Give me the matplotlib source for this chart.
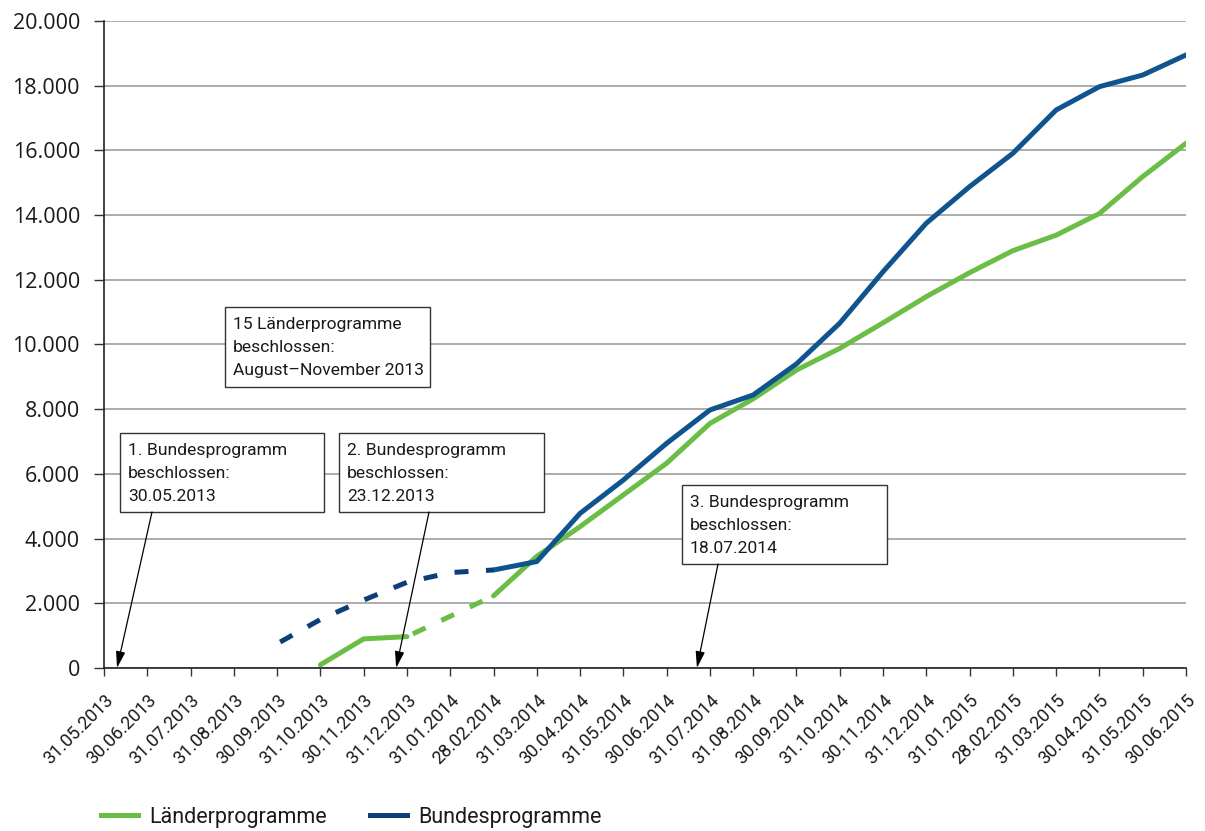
import matplotlib
matplotlib.use("Agg")
import matplotlib.pyplot as plt
from matplotlib import font_manager
from matplotlib.ticker import FuncFormatter, FixedLocator
from matplotlib.patches import Rectangle
from matplotlib.lines import Line2D
import numpy as np

nan = np.nan

# Stichtage (Monatsenden)
dates = ["31.05.2013", "30.06.2013", "31.07.2013", "31.08.2013", "30.09.2013",
         "31.10.2013", "30.11.2013", "31.12.2013", "31.01.2014", "28.02.2014",
         "31.03.2014", "30.04.2014", "31.05.2014", "30.06.2014", "31.07.2014",
         "31.08.2014", "30.09.2014", "31.10.2014", "30.11.2014", "31.12.2014",
         "31.01.2015", "28.02.2015", "31.03.2015", "30.04.2015", "31.05.2015",
         "30.06.2015"]

# Länderprogramme: gemeldete Werte (durchgezogen) und Lücke (gestrichelt)
laender = [nan, nan, nan, nan, nan, 100, 900, 970, nan, 2230,
           3450, 4370, 5350, 6330, 7560, 8320, 9210, 9880, 10670, 11480,
           12220, 12900, 13380, 14050, 15190, 16220]
laender_luecke = [nan, nan, nan, nan, nan, nan, nan, 970, 1600, 2230,
                  nan, nan, nan, nan, nan, nan, nan, nan, nan, nan,
                  nan, nan, nan, nan, nan, nan]

# Bundesprogramme
bund = [nan, nan, nan, nan, nan, nan, nan, nan, nan, 3030,
        3290, 4780, 5810, 6945, 7975, 8440, 9400, 10660, 12250, 13750,
        14880, 15910, 17250, 17970, 18330, 18950]
bund_luecke = [nan, nan, nan, nan, 750, 1500, 2100, 2650, 2950, 3030,
               nan, nan, nan, nan, nan, nan, nan, nan, nan, nan,
               nan, nan, nan, nan, nan, nan]

y_ticks = [0, 2000, 4000, 6000, 8000, 10000, 12000, 14000, 16000, 18000, 20000]

# Beschlüsse (Position auf der Zeitachse als Bruchteil des Monatsindex)
notes = [
    ("1. Bundesprogramm\nbeschlossen:\n30.05.2013", 0.30),
    ("2. Bundesprogramm\nbeschlossen:\n23.12.2013", 6.75),
    ("3. Bundesprogramm\nbeschlossen:\n18.07.2014", 13.70),
]
note_laender = "15 Länderprogramme\nbeschlossen:\nAugust–November 2013"

GREEN = "#6abd45"
BLUE = "#10548f"
BLUE_DARK = "#0b3f7a"
GRID = "#a6a6a6"
TEXT = "#1a1a1a"


def pick(cands):
    names = {f.name for f in font_manager.fontManager.ttflist}
    chosen = [c for c in cands if c in names]
    return chosen + ["DejaVu Sans"]


LABEL_FONT = pick(["Liberation Sans Narrow", "Roboto"])
NUM_FONT = pick(["Open Sans", "Noto Sans"])

plt.rcParams["font.family"] = NUM_FONT
plt.rcParams["lines.scale_dashes"] = False

fig = plt.figure(figsize=(12.05, 8.31), dpi=100)
ax = fig.add_axes([104 / 1205, 1 - 668 / 831, (1186 - 104) / 1205, (668 - 21) / 831])

x = np.arange(len(dates))
px = 0.72  # points per pixel
lw = 5 * px

ax.plot(x, laender, color=GREEN, lw=lw, solid_capstyle="round",
        solid_joinstyle="round", zorder=3)
ax.plot(x, bund, color=BLUE, lw=lw, solid_capstyle="round",
        solid_joinstyle="round", zorder=4)
ax.plot(x, laender_luecke, color=GREEN, lw=lw, dash_capstyle="butt",
        linestyle=(25 * px, (14 * px, 17.5 * px)), zorder=3)
ax.plot(x, bund_luecke, color=BLUE_DARK, lw=lw, dash_capstyle="butt",
        linestyle=(28 * px, (14 * px, 17.5 * px)), zorder=4)

ax.set_xlim(0, len(dates) - 1)
ax.set_ylim(0, 20000)

ax.yaxis.set_major_locator(FixedLocator(y_ticks))
ax.yaxis.set_major_formatter(FuncFormatter(lambda v, p: f"{int(v):,}".replace(",", ".")))
ax.set_xticks(x)
ax.set_xticklabels(dates, rotation=45, ha="right", va="top",
                   rotation_mode="anchor", fontsize=13, family=LABEL_FONT,
                   color=TEXT)
ax.tick_params(axis="x", direction="out", length=8 * px, width=1, color="#333333",
               pad=15 * px)
ax.tick_params(axis="y", direction="out", length=10 * px, width=1, color="#333333",
               pad=14 * px, labelsize=15.5, labelcolor=TEXT)

ax.grid(axis="y", color=GRID, lw=1.3)
ax.set_axisbelow(True)
for s in ("top", "right"):
    ax.spines[s].set_visible(False)
for s in ("left", "bottom"):
    ax.spines[s].set_color("#222222")
    ax.spines[s].set_linewidth(1.2)

PX_X = 43.28          # Pixel je Monat
PX_Y = 647 / 20000    # Pixel je Einheit


def box(x0, x1, ytop, ybot, text):
    y0 = (668 - ybot) / PX_Y
    y1 = (668 - ytop) / PX_Y
    xd0 = (x0 - 104) / PX_X
    xd1 = (x1 - 104) / PX_X
    ax.add_patch(Rectangle((xd0, y0), xd1 - xd0, y1 - y0, facecolor="white",
                           edgecolor="#333333", lw=1.0, zorder=6))
    ax.text(xd0 + 8 / PX_X, y1 - 10 / PX_Y, text, ha="left", va="top",
            fontsize=12.6, family=LABEL_FONT, color=TEXT, linespacing=1.68,
            zorder=7)
    return y0


boxes = [(120, 324, 433, 512), (339, 544, 433, 512), (682, 887, 485, 564)]
arrow_start = [152, 429, 718]
for (text, tip), (bx0, bx1, bt, bb), sx in zip(notes, boxes, arrow_start):
    ybottom = box(bx0, bx1, bt, bb, text)
    ax.annotate("", xy=(tip, 0), xytext=((sx - 104) / PX_X, ybottom),
                arrowprops=dict(arrowstyle="-|>,head_length=1.0,head_width=0.28",
                                color="black", lw=0.9, shrinkA=0, shrinkB=0),
                zorder=8, annotation_clip=False)

box(225, 430, 307, 387, note_laender)

# Legende
handles = [Line2D([], [], color=GREEN, lw=lw), Line2D([], [], color=BLUE_DARK, lw=lw)]
fig.legend(handles, ["Länderprogramme", "Bundesprogramme"], loc="center left",
           bbox_to_anchor=(101 / 1205, 1 - 817 / 831), ncol=2, frameon=False,
           prop={"family": LABEL_FONT, "size": 15.5}, handlelength=1.7,
           handletextpad=0.55, columnspacing=2.0, borderpad=0, borderaxespad=0,
           labelcolor=TEXT)

fig.savefig("out.png", dpi=100)
